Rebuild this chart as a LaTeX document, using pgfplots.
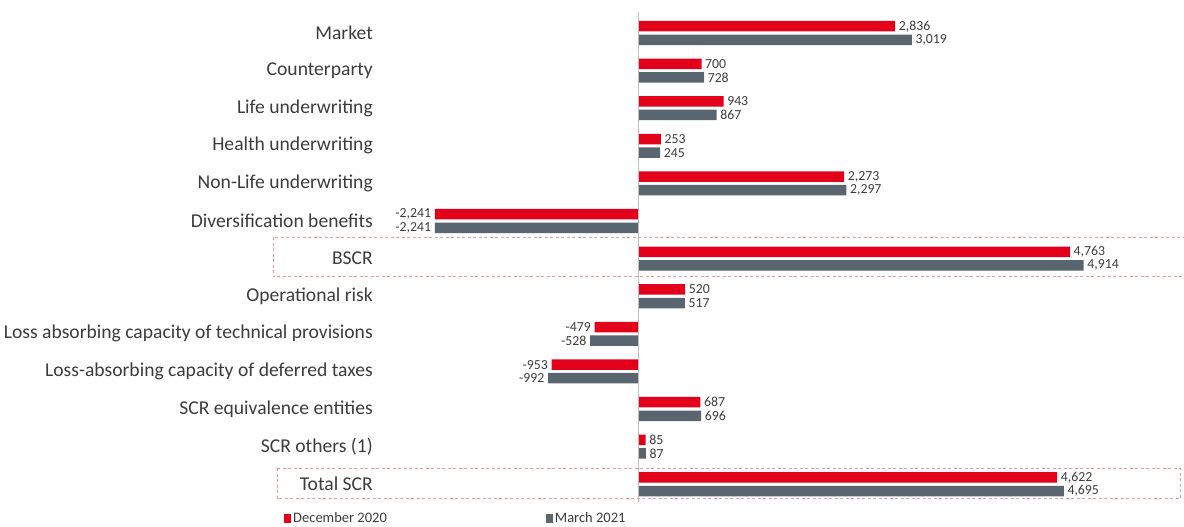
\documentclass[border=0pt]{standalone}
\usepackage{pgfplots}
\pgfplotsset{compat=1.18}
\usepackage{fontspec}
\setmainfont{Carlito}
\definecolor{cred}{HTML}{E2001A}
\definecolor{cgray}{HTML}{596670}
\definecolor{ctext}{HTML}{3C3C3C}
\definecolor{cbox}{HTML}{EC9A9F}
\definecolor{caxis}{HTML}{BEBEBE}
\begin{document}
\begin{tikzpicture}
\useasboundingbox (0,0) rectangle (1184pt,527pt);
\begin{axis}[
  at={(380pt,24pt)}, anchor=south west,
  scale only axis, width=770pt, height=488.8pt,
  xmin=-2845, xmax=5645,
  ymin=-0.5, ymax=12.5, y dir=reverse,
  xbar, bar width=10.5pt,
  axis line style={draw=none},
  xtick=\empty,
  ytick={0,...,12},
  major tick length=0pt,
  yticklabels={Market,Counterparty,Life underwriting,Health underwriting,Non-Life underwriting,Diversification benefits,BSCR,Operational risk,Loss absorbing capacity of technical provisions,Loss-absorbing capacity of deferred taxes,SCR equivalence entities,SCR others (1),Total SCR},
  yticklabel style={font=\fontsize{19.6}{21}\selectfont, text=ctext, anchor=east, inner sep=0pt, xshift=-7pt},
  clip=false,
  nodes near coords,
  nodes near coords style={font=\fontsize{13.8}{14}\selectfont, text=ctext, inner sep=3.5pt,
    /pgf/number format/.cd, assume math mode=true, fixed, precision=0, 1000 sep={,}},
  legend columns=2,
  legend style={at={(axis cs:-3903,12.9)}, anchor=west, draw=none, fill=none, inner sep=0pt,
    font=\fontsize{14.5}{16}\selectfont, text=ctext,
    /tikz/every even column/.append style={column sep=157pt},
    nodes={inner sep=2pt}},
  legend image code/.code={\fill[#1] (0pt,-4.5pt) rectangle (7pt,4pt);},
]
\addplot[fill=cred, draw=none, bar shift=6.8pt] coordinates {
  (2836,0) (700,1) (943,2) (253,3) (2273,4) (-2241,5) (4763,6) (520,7) (-479,8) (-953,9) (687,10) (85,11) (4622,12)};
\addplot[fill=cgray, draw=none, bar shift=-6.8pt] coordinates {
  (3019,0) (728,1) (867,2) (245,3) (2297,4) (-2241,5) (4914,6) (517,7) (-528,8) (-992,9) (696,10) (87,11) (4695,12)};
\legend{December 2020, March 2021}
\draw[caxis, line width=0.8pt] (axis cs:0,-0.55) -- (axis cs:0,12.47);
\draw[cbox, line width=1pt, dash pattern=on 3pt off 2.5pt] (axis cs:6100,5.426) -- (axis cs:-4024,5.426) -- (axis cs:-4024,6.489) -- (axis cs:6100,6.489);
\draw[cbox, line width=1pt, dash pattern=on 3pt off 2.5pt] (axis cs:-3980,11.57) rectangle (axis cs:5976,12.39);
\end{axis}
\end{tikzpicture}
\end{document}
